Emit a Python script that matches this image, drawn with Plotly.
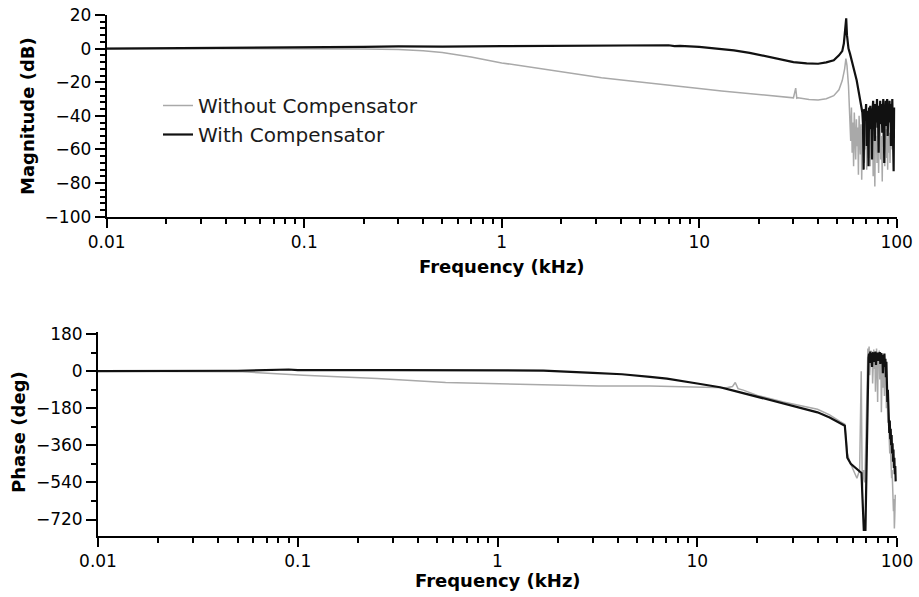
import plotly.graph_objects as go

# ---------------- Magnitude data (kHz, dB) ----------------
mag_with_f = [0.01, 0.05, 0.1, 0.2, 0.3, 0.49, 0.5, 1, 2, 3.2, 5, 7, 7.5, 8, 10, 12, 15, 18, 22, 26,
              30, 35, 40, 44, 48, 51, 53, 54, 55, 55.5, 56, 57, 58, 60, 62.7, 64.5, 66.5,
              67, 67.5, 68, 68.5, 69, 69.5, 70, 70.5, 71, 71.5, 72, 72.5, 73, 73.5, 74, 74.5,
              75, 75.5, 76, 76.5, 77, 77.5, 78, 78.5, 79, 79.5, 80, 80.5, 81, 81.5, 82, 82.5,
              83, 83.5, 84, 84.5, 85, 85.5, 86, 86.5, 87, 87.5, 88, 88.5, 89, 89.5, 90, 90.5,
              91, 91.5, 92, 92.5, 93, 93.5, 94, 94.5, 95, 95.5, 96, 96.5, 97]
mag_with_db = [0.0, 0.3, 0.6, 1.0, 1.3, 1.6, 1.2, 1.5, 1.8, 2.0, 2.0, 2.0, 1.5, 1.6, 1.0, 0.2, -1.0, -2.5, -4.5, -6.5,
               -8.0, -8.8, -9.0, -8.2, -6.9, -4.0, -1.5, 3.0, 12.0, 18.0, 8.0, 0.0, -3.0, -10.0, -18.8, -27.0, -34.7,
               -38, -45, -72, -36, -42, -40, -33, -58, -37, -44, -70, -35, -40, -34, -48, -38,
               -66, -36, -31, -42, -38, -55, -33, -44, -36, -30, -47, -38, -62, -34, -40, -31,
               -45, -37, -33, -50, -36, -30, -43, -68, -35, -39, -31, -46, -36, -30, -52, -38,
               -34, -41, -31, -44, -36, -58, -33, -40, -30, -48, -38, -73, -35]

mag_without_f = [0.01, 0.1, 0.2, 0.3, 0.4, 0.5, 0.7, 1, 1.4, 1.77, 2.5, 3.2, 4.5, 5.7, 7.5, 10, 13, 17, 22, 27,
                 30, 30.8, 31.2, 31.6, 32.5, 36, 40, 44, 48, 51, 53, 54.5, 55.3, 56, 57, 57.5,
                 58, 58.5, 59, 59.5, 60, 60.5, 61, 61.5, 62, 62.5, 63, 63.5, 64, 64.5, 65, 65.5,
                 66, 66.5, 67, 67.5, 68, 68.5, 69, 69.5, 70, 70.5, 71, 71.5, 72, 72.5, 73, 73.5,
                 74, 74.5, 75, 75.5, 76, 76.5, 77, 77.5, 78, 78.5, 79, 79.5, 80, 80.5, 81, 81.5,
                 82, 82.5, 83, 83.5, 84, 84.5, 85, 85.5, 86, 86.5, 87, 87.5, 88, 88.5, 89, 89.5,
                 90, 90.5, 91, 91.5, 92, 92.5, 93, 93.5, 94, 94.5, 95]
mag_without_db = [0, 0, -0.2, -0.5, -1.2, -2.3, -5.0, -8.5, -11, -13, -15.5, -17.3, -19.3, -20.5, -22.2, -23.7, -25.2, -26.5, -27.8, -28.8,
                  -29.3, -23.5, -29.5, -29.3, -29.6, -30.3, -30.5, -29.8, -28.0, -24.5, -19, -12, -6, -10, -22, -32,
                  -40, -55, -35, -62, -44, -70, -38, -50, -66, -42,
                  -58, -47, -75, -40, -52, -63, -45, -78, -48, -56,
                  -42, -68, -50, -60, -44, -72, -53, -46, -65, -41,
                  -58, -70, -48, -55, -62, -44, -76, -50, -57, -82,
                  -46, -60, -52, -68, -43, -55, -74, -49, -61, -45,
                  -66, -52, -58, -79, -47, -56, -63, -44, -70, -51,
                  -59, -48, -65, -54, -72, -46, -57, -62, -50, -68,
                  -53, -60, -45, -58, -55]

# ---------------- Phase data (kHz, deg) ----------------
ph_with_f = [0.01, 0.05, 0.09, 0.1, 0.3, 1.06, 1.7, 3.0, 4.2, 5.8, 7.05, 10, 13, 15, 20, 27, 33, 40, 46, 52,
             54.8, 55.5, 56.4, 58.7, 62, 66.4, 67.2, 68.2, 69.5, 70.3, 71, 72,
             72.5, 73, 73.5, 74, 74.5, 75, 75.5, 76, 76.5, 77, 77.5, 78, 78.5, 79, 79.5, 80,
             80.5, 81, 81.5, 82, 82.5, 83, 83.5, 84, 84.5, 85, 85.5, 86, 86.5, 87, 87.5, 88, 88.5,
             89, 89.5, 90, 90.5, 91, 91.5, 92, 92.5, 93, 93.5, 94, 94.5, 95, 95.5, 96, 96.5,
             97, 97.5, 98, 98.5]
ph_with_deg = [0, 2, 8, 5, 5, 5, 3, -8, -15, -28, -36, -60, -78, -93, -125, -159, -180, -200, -225, -255,
               -265, -330, -420, -450, -470, -494, -620, -770, -770, -500, -126, 64,
               85, 40, 95, 60, 88, 20, 75, 92, 45, 80, 65, 95, 30, 85, 70, 90,
               50, 82, 60, 93, 35, 78, 88, 55, 80, -10, 70, 40, 85, 20, 60, -30, 45,
               -60, -150, -90, -220, -180, -300, -240, -330, -280, -360, -310, -400, -350, -440, -380, -470,
               -420, -500, -460, -535]

ph_without_f = [0.01, 0.053, 0.107, 0.25, 0.55, 1.3, 3.2, 5.8, 10, 14, 15, 15.5, 16, 17, 20, 27, 40, 46, 52,
                54.8, 55.5, 56.4, 58, 60, 63, 65, 65.8, 66.2, 66.6, 67, 68, 69, 70, 71,
                71.5, 72, 72.5, 73, 73.5, 74, 74.5, 75, 75.5, 76, 76.5, 77, 77.5, 78, 78.5, 79,
                79.5, 80, 80.5, 81, 81.5, 82, 82.5, 83, 83.5, 84, 84.5, 85, 85.5, 86, 86.5, 87,
                87.5, 88, 88.5, 89,
                89.5, 90, 90.5, 91, 91.5, 92, 92.5, 93, 93.5, 94, 94.5, 95, 95.5, 96, 96.5, 97, 97.5, 98]
ph_without_deg = [0, -3, -20, -36, -55, -65, -72, -72, -77, -80, -75, -55, -85, -92, -118, -150, -185, -212, -245,
                  -258, -320, -400, -440, -470, -520, -480, -200, 0, -300, -570, -480, -540, -300, 50,
                  110, 60, 119, -20, 80, 100, 30, 95, -60, 70, 105, 10, 90, -100, 60, 110,
                  40, -150, 85, 20, 100, -40, 70, 90, -200, 50, 80, -80, 60, 20, -120, 40,
                  -20, 10, -180, -60,
                  -150, -250, -200, -320, -280, -400, -350, -460, -420, -520, -480, -600, -550, -680, -620, -763,
                  -700, -600]

x_tickvals = [0.01, 0.1, 1, 10, 100]
x_ticktext = ["0.01", "0.1", "1", "10", "100"]
mag_tickvals = [20, 0, -20, -40, -60, -80, -100]
ph_tickvals = [180, 0, -180, -360, -540, -720]

GRAY = "#a9a9a9"
BLACK = "#111111"
FONT = "DejaVu Sans"
W, H = 919, 597

fig = go.Figure()
fig.add_trace(go.Scatter(x=mag_without_f, y=mag_without_db, mode="lines", name="Without Compensator",
                         line=dict(color=GRAY, width=1.5), xaxis="x", yaxis="y"))
fig.add_trace(go.Scatter(x=mag_with_f, y=mag_with_db, mode="lines", name="With Compensator",
                         line=dict(color=BLACK, width=2.2), xaxis="x", yaxis="y"))
fig.add_trace(go.Scatter(x=ph_without_f, y=ph_without_deg, mode="lines", showlegend=False,
                         line=dict(color=GRAY, width=1.5), xaxis="x2", yaxis="y2"))
fig.add_trace(go.Scatter(x=ph_with_f, y=ph_with_deg, mode="lines", showlegend=False,
                         line=dict(color=BLACK, width=2.2), xaxis="x2", yaxis="y2"))

minor_x = [m * 10.0 ** e for e in range(-2, 2) for m in range(2, 10)]

def xax(domain, anchor):
    return dict(type="log", range=[-2, 2], domain=domain, anchor=anchor,
                showline=True, linecolor="black", linewidth=2, showgrid=False, zeroline=False,
                ticks="outside", ticklen=9, tickwidth=2, tickcolor="black",
                tickmode="array", tickvals=x_tickvals, ticktext=x_ticktext,
                minor=dict(ticks="outside", ticklen=5, tickwidth=1.5, tickcolor="black",
                           tickmode="array", tickvals=minor_x, showgrid=False),
                tickfont=dict(family=FONT, size=17, color="black"), automargin=False)

def yax(domain, anchor, rng, vals, minor_dtick):
    return dict(range=rng, domain=domain, anchor=anchor,
                showline=True, linecolor="black", linewidth=2, showgrid=False, zeroline=False,
                ticks="outside", ticklen=10, tickwidth=2, tickcolor="black",
                tickmode="array", tickvals=vals, ticktext=[("\u2212" + str(-v)) if v < 0 else str(v) for v in vals],
                minor=dict(ticks="outside", ticklen=5, tickwidth=1.5, tickcolor="black",
                           dtick=minor_dtick, tick0=0, showgrid=False),
                tickfont=dict(family=FONT, size=17, color="black"), automargin=False)

fig.update_layout(
    width=W, height=H, margin=dict(l=0, r=0, t=0, b=0),
    paper_bgcolor="white", plot_bgcolor="white",
    xaxis=xax([106.7 / W, 896.7 / W], "y"),
    yaxis=yax([1 - 216.7 / H, 1 - 15 / H], "x", [-100, 20], mag_tickvals, 4),
    xaxis2=xax([98 / W, 897 / W], "y2"),
    yaxis2=yax([1 - 536 / H, 1 - 332 / H], "x2", [-800, 190], ph_tickvals, 90),
    legend=dict(x=158 / W, y=1 - 86 / H, xanchor="left", yanchor="top",
                bgcolor="rgba(0,0,0,0)", font=dict(family=FONT, size=20, color="#1a1a1a"),
                tracegroupgap=0, itemwidth=30),
    font=dict(family=FONT, color="black"),
)

title_font = dict(family=FONT, size=18, color="black")
annos = [
    dict(text="<b>Frequency (kHz)</b>", x=(106.7 + 896.7) / 2 / W, y=1 - 266 / H),
    dict(text="<b>Frequency (kHz)</b>", x=(98 + 897) / 2 / W, y=1 - 580 / H),
    dict(text="<b>Magnitude (dB)</b>", x=27 / W, y=1 - 116 / H, textangle=-90),
    dict(text="<b>Phase (deg)</b>", x=18 / W, y=1 - 432 / H, textangle=-90),
]
for a in annos:
    fig.add_annotation(xref="paper", yref="paper", showarrow=False, font=title_font,
                       xanchor="center", yanchor="middle", **a)

fig.write_html("out.html")
